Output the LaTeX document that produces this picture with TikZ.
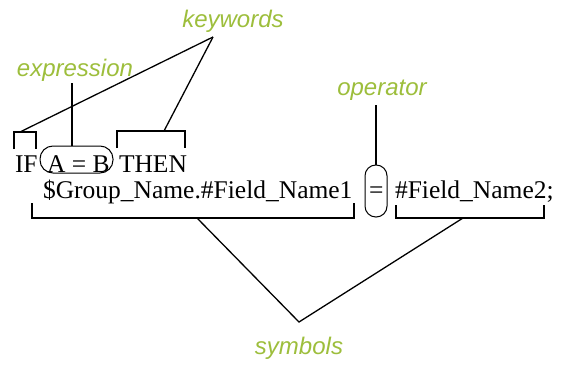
\documentclass[tikz,border=0pt]{standalone}
\usepackage{fontspec}
\setmainfont{Liberation Serif}
\newfontfamily\labelfont{Liberation Sans}
\definecolor{lblgreen}{RGB}{157,190,60}
\begin{document}
\begin{tikzpicture}[x=1pt,y=-1pt,
  code/.style={inner sep=0pt,outer sep=0pt,anchor=base west,font=\fontsize{25.5}{30}\selectfont},
  lbl/.style={inner sep=0pt,anchor=base,text=lblgreen,font=\labelfont\itshape\fontsize{24}{28}\selectfont},
  brk/.style={line width=2.2pt},
  conn/.style={line width=1.3pt},
  ring/.style={line width=1pt}]
\useasboundingbox (0,0) rectangle (564,364);
% code text
\node[code] (if) at (15,172) {IF};
\node[code] (ab) at (47,172) {A = B};
\node[code] (then) at (119,172) {THEN};
\node[code] (grp) at (43,198) {\$Group\_Name.\#Field\_Name1};
\node[code] (eq) at (369,198) {=};
\node[code] (fld) at (395,198) {\#Field\_Name2;};
% labels
\node[lbl] (kw) at (233,27) {keywords};
\node[lbl] (ex) at (75,76) {expression};
\node[lbl] (op) at (382,95) {operator};
\node[lbl] (sy) at (299,354) {symbols};
% anchor points
\coordinate (kwapex) at (213,37);
\coordinate (ifb) at (20,132);
\coordinate (thenb) at (164,131);
\coordinate (exbot) at (72,146);
\coordinate (extop) at (72,83);
\coordinate (optop) at (376,105);
\coordinate (opbot) at (376,165);
\coordinate (syapex) at (299,322);
\coordinate (grpb) at (197,218);
\coordinate (fldb) at (463,218);
% brackets
\draw[brk] (14,149) -- (14,132) -- (36,132) -- (36,149);
\draw[brk] (117,148) -- (117,131) -- (185,131) -- (185,148);
\draw[brk] (32,203) -- (32,218) -- (354,218) -- (354,203);
\draw[brk] (396,205) -- (396,218) -- (544,218) -- (544,205);
% rings
\draw[ring,rounded corners=13pt] (40,146) rectangle (113,173);
\draw[ring,rounded corners=10.8pt] (365,165) rectangle (387,217);
% connectors
\draw[conn] (kwapex) -- (ifb);
\draw[conn] (kwapex) -- (thenb);
\draw[brk] (extop) -- (exbot);
\draw[brk] (optop) -- (opbot);
\draw[conn] (grpb) -- (syapex) -- (fldb);
\end{tikzpicture}
\end{document}
